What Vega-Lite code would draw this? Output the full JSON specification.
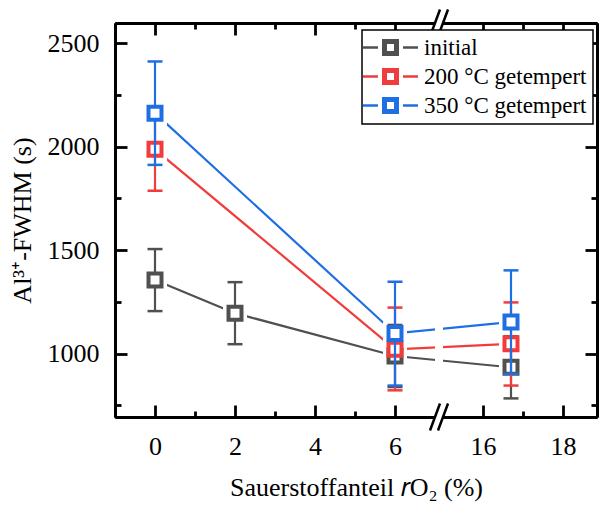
{
  "$schema": "https://vega.github.io/schema/vega-lite/v6.json",
  "width": 482,
  "height": 394,
  "autosize": {"type": "none"},
  "padding": {"left": 115, "top": 23, "right": 3, "bottom": 89},
  "background": "white",
  "config": {
    "view": {"stroke": null},
    "font": "Liberation Serif",
    "axis": {
      "domainColor": "black", "domainWidth": 3, "tickColor": "black", "tickWidth": 2.8,
      "labelColor": "black", "labelFont": "Liberation Serif", "labelFontSize": 26,
      "titleFont": "Liberation Serif", "titleFontSize": 26, "titleFontWeight": "normal", "titleColor": "black",
      "grid": false, "format": "d"
    },
    "legend": {"labelFont": "Liberation Serif"}
  },
  "datasets": {
    "pts": [
      {"s": "initial", "x": 0, "y": 1355, "lo": 1205, "hi": 1505},
      {"s": "initial", "x": 2, "y": 1195, "lo": 1045, "hi": 1345},
      {"s": "initial", "x": 6, "y": 988, "lo": 838, "hi": 1138},
      {"s": "initial", "x": 16.7, "y": 933, "lo": 783, "hi": 1083},
      {"s": "200 °C getempert", "x": 0, "y": 1987, "lo": 1787, "hi": 2187},
      {"s": "200 °C getempert", "x": 6, "y": 1020, "lo": 822, "hi": 1222},
      {"s": "200 °C getempert", "x": 16.7, "y": 1047, "lo": 845, "hi": 1247},
      {"s": "350 °C getempert", "x": 0, "y": 2162, "lo": 1912, "hi": 2412},
      {"s": "350 °C getempert", "x": 6, "y": 1097, "lo": 845, "hi": 1347},
      {"s": "350 °C getempert", "x": 16.7, "y": 1152, "lo": 902, "hi": 1402}
    ]
  },
  "data": {"name": "pts"},
  "resolve": {"axis": {"x": "independent", "y": "independent"}},
  "layer": [
    {
      "mark": {"type": "line", "strokeWidth": 2.2},
      "encoding": {
        "x": {"field": "x", "type": "quantitative",
          "scale": {"domain": [-1, 7, 15, 18.85], "range": [0, 320, 328, 482], "nice": false, "zero": false},
          "axis": {"orient": "bottom", "values": [0, 2, 4, 6, 16, 18], "tickSize": -12, "labelPadding": 28, "labelFont": "Liberation Serif", "titleFont": "Liberation Serif", "title": "Sauerstoffanteil 𝑟O₂ (%)", "titlePadding": 15}},
        "y": {"field": "y", "type": "quantitative",
          "scale": {"domain": [693, 2598], "nice": false, "zero": false},
          "axis": {"orient": "left", "values": [1000, 1500, 2000, 2500], "tickSize": -12, "labelPadding": 28, "labelFont": "Liberation Serif", "titleFont": "Liberation Serif", "title": "Al³⁺-FWHM (s)", "titlePadding": 12}},
        "color": {"field": "s", "type": "nominal",
          "scale": {"domain": ["initial", "200 °C getempert", "350 °C getempert"], "range": ["#505050", "#F03C3C", "#1E6FE3"]},
          "legend": {
            "orient": "none", "legendX": 247, "legendY": 7, "title": null,
            "symbolType": "M-1,-1H1V1H-1Z M-0.41,-0.41V0.41H0.41V-0.41Z M-3.24,-0.15H-1.47V0.15H-3.24Z M1.47,-0.15H3.24V0.15H1.47Z",
            "symbolSize": 289, "symbolStrokeWidth": 0, "symbolOffset": 11,
            "labelFont": "Liberation Serif", "labelFontSize": 23, "labelColor": "black", "labelOffset": 22, "labelLimit": 400,
            "padding": 6, "rowPadding": 5, "strokeColor": "black", "fillColor": "white",
            "encoding": {
              "symbols": {"fill": {"value": {"expr": "scale('color', datum.value)"}}, "opacity": {"value": 1}},
              "legend": {"strokeWidth": {"value": 1.5}}
            }
          }}
      }
    },
    {
      "mark": {"type": "square", "color": "white", "size": 576, "opacity": 1},
      "encoding": {
        "x": {"field": "x", "type": "quantitative", "axis": {"orient": "bottom", "values": [1, 3, 5, 17], "tickSize": -6, "labels": false, "title": null}},
        "y": {"field": "y", "type": "quantitative", "axis": {"orient": "left", "values": [750, 1250, 1750, 2250], "tickSize": -6, "labels": false, "title": null}}
      }
    },
    {
      "mark": {"type": "point", "opacity": 0},
      "encoding": {
        "x": {"field": "x", "type": "quantitative", "axis": {"orient": "top", "values": [0, 2, 4, 6, 16, 18], "tickSize": -12, "labels": false, "title": null}},
        "y": {"field": "y", "type": "quantitative", "axis": {"orient": "right", "values": [1000, 1500, 2000, 2500], "tickSize": -12, "labels": false, "title": null}}
      }
    },
    {
      "mark": {"type": "point", "opacity": 0},
      "encoding": {
        "x": {"field": "x", "type": "quantitative", "axis": {"orient": "top", "values": [1, 3, 5, 17], "tickSize": -6, "labels": false, "title": null}},
        "y": {"field": "y", "type": "quantitative", "axis": {"orient": "right", "values": [750, 1250, 1750, 2250], "tickSize": -6, "labels": false, "title": null}}
      }
    },
    {
      "data": {"values": [{}]},
      "mark": {"type": "rect", "color": "white", "opacity": 1},
      "encoding": {
        "x": {"datum": 7, "type": "quantitative", "axis": null},
        "x2": {"datum": 15},
        "y": {"datum": 640, "type": "quantitative", "axis": null},
        "y2": {"datum": 2660}
      }
    },
    {
      "data": {"values": [{}]},
      "mark": {"type": "point", "shape": "M-0.667,1L0.074,-1M-0.074,1L0.667,-1", "size": 729, "filled": false, "color": "black", "strokeWidth": 2.5, "opacity": 1},
      "encoding": {
        "x": {"datum": 11, "type": "quantitative", "axis": null},
        "y": {"datum": 693, "type": "quantitative", "axis": null}
      }
    },
    {
      "data": {"values": [{}]},
      "mark": {"type": "point", "shape": "M-0.667,1L0.074,-1M-0.074,1L0.667,-1", "size": 729, "filled": false, "color": "black", "strokeWidth": 2.5, "opacity": 1},
      "encoding": {
        "x": {"datum": 11, "type": "quantitative", "axis": null},
        "y": {"datum": 2598, "type": "quantitative", "axis": null}
      }
    },
    {
      "transform": [{"filter": "datum.s === 'initial'"}],
      "layer": [
        {"mark": {"type": "rule", "strokeWidth": 2.2, "color": "#505050"},
         "encoding": {"x": {"field": "x", "type": "quantitative", "axis": null}, "y": {"field": "lo", "type": "quantitative", "axis": null}, "y2": {"field": "hi"}}},
        {"mark": {"type": "tick", "orient": "horizontal", "size": 15, "thickness": 2.5, "color": "#505050", "opacity": 1},
         "encoding": {"x": {"field": "x", "type": "quantitative", "axis": null}, "y": {"field": "lo", "type": "quantitative", "axis": null}}},
        {"mark": {"type": "tick", "orient": "horizontal", "size": 15, "thickness": 2.5, "color": "#505050", "opacity": 1},
         "encoding": {"x": {"field": "x", "type": "quantitative", "axis": null}, "y": {"field": "hi", "type": "quantitative", "axis": null}}},
        {"mark": {"type": "point", "shape": "square", "size": 169, "strokeWidth": 4, "filled": false, "fill": "white", "fillOpacity": 1, "opacity": 1, "color": "#505050"},
         "encoding": {"x": {"field": "x", "type": "quantitative", "axis": null}, "y": {"field": "y", "type": "quantitative", "axis": null}}}
      ]
    },
    {
      "transform": [{"filter": "datum.s === '200 °C getempert'"}],
      "layer": [
        {"mark": {"type": "rule", "strokeWidth": 2.2, "color": "#F03C3C"},
         "encoding": {"x": {"field": "x", "type": "quantitative", "axis": null}, "y": {"field": "lo", "type": "quantitative", "axis": null}, "y2": {"field": "hi"}}},
        {"mark": {"type": "tick", "orient": "horizontal", "size": 15, "thickness": 2.5, "color": "#F03C3C", "opacity": 1},
         "encoding": {"x": {"field": "x", "type": "quantitative", "axis": null}, "y": {"field": "lo", "type": "quantitative", "axis": null}}},
        {"mark": {"type": "tick", "orient": "horizontal", "size": 15, "thickness": 2.5, "color": "#F03C3C", "opacity": 1},
         "encoding": {"x": {"field": "x", "type": "quantitative", "axis": null}, "y": {"field": "hi", "type": "quantitative", "axis": null}}},
        {"mark": {"type": "point", "shape": "square", "size": 169, "strokeWidth": 4, "filled": false, "fill": "white", "fillOpacity": 1, "opacity": 1, "color": "#F03C3C"},
         "encoding": {"x": {"field": "x", "type": "quantitative", "axis": null}, "y": {"field": "y", "type": "quantitative", "axis": null}}}
      ]
    },
    {
      "transform": [{"filter": "datum.s === '350 °C getempert'"}],
      "layer": [
        {"mark": {"type": "rule", "strokeWidth": 2.2, "color": "#1E6FE3"},
         "encoding": {"x": {"field": "x", "type": "quantitative", "axis": null}, "y": {"field": "lo", "type": "quantitative", "axis": null}, "y2": {"field": "hi"}}},
        {"mark": {"type": "tick", "orient": "horizontal", "size": 15, "thickness": 2.5, "color": "#1E6FE3", "opacity": 1},
         "encoding": {"x": {"field": "x", "type": "quantitative", "axis": null}, "y": {"field": "lo", "type": "quantitative", "axis": null}}},
        {"mark": {"type": "tick", "orient": "horizontal", "size": 15, "thickness": 2.5, "color": "#1E6FE3", "opacity": 1},
         "encoding": {"x": {"field": "x", "type": "quantitative", "axis": null}, "y": {"field": "hi", "type": "quantitative", "axis": null}}},
        {"mark": {"type": "point", "shape": "square", "size": 169, "strokeWidth": 4, "filled": false, "fill": "white", "fillOpacity": 1, "opacity": 1, "color": "#1E6FE3"},
         "encoding": {"x": {"field": "x", "type": "quantitative", "axis": null}, "y": {"field": "y", "type": "quantitative", "axis": null}}}
      ]
    }
  ]
}
